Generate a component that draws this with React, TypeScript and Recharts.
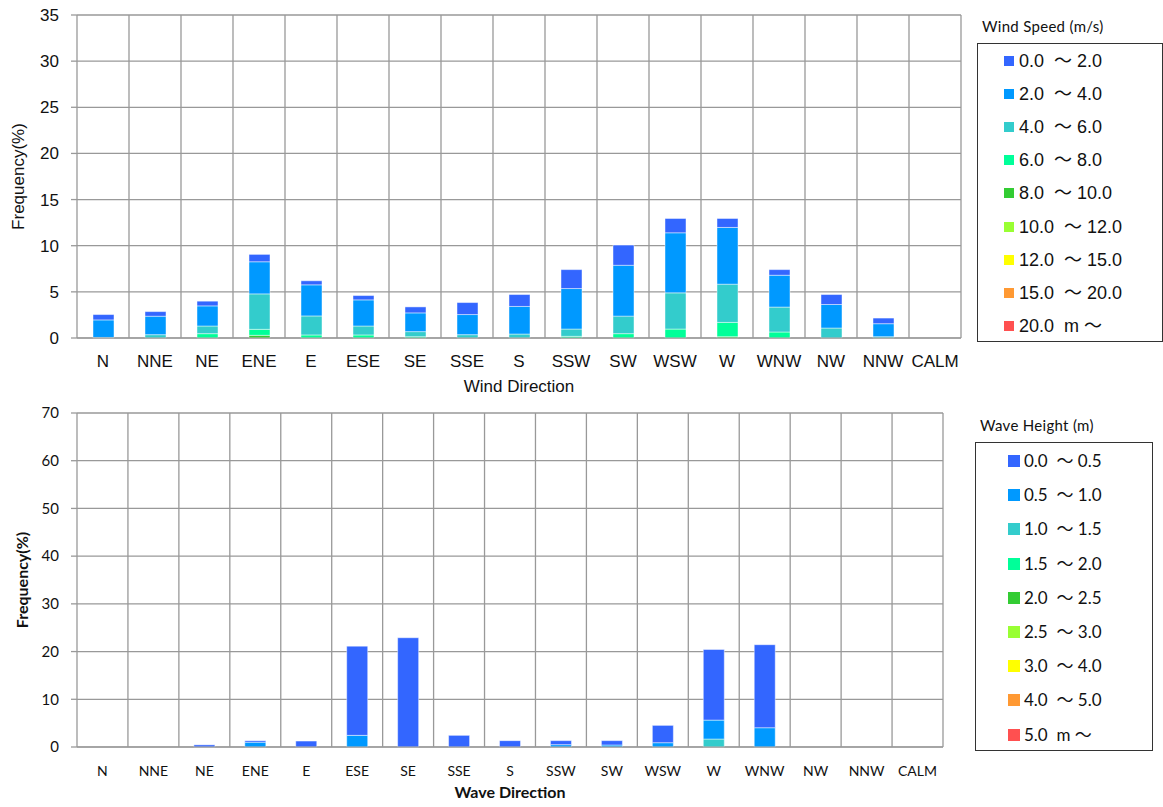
import React from 'react'
import { BarChart, Bar, XAxis, YAxis, CartesianGrid } from 'recharts'

const DIRECTIONS = ['N', 'NNE', 'NE', 'ENE', 'E', 'ESE', 'SE', 'SSE', 'S', 'SSW', 'SW', 'WSW', 'W', 'WNW', 'NW', 'NNW', 'CALM']

// ── Wind speed classes (m/s) ─────────────────────────────────────────────────
const WIND_LABELS = ['0.0  ～ 2.0', '2.0  ～ 4.0', '4.0  ～ 6.0', '6.0  ～ 8.0', '8.0  ～ 10.0', '10.0  ～ 12.0', '12.0  ～ 15.0', '15.0  ～ 20.0', '20.0  m ～']
const WIND_0_2   = [0.58, 0.50, 0.51, 0.80, 0.44, 0.47, 0.65, 1.30, 1.29, 2.05, 2.19, 1.55, 0.97, 0.61, 1.08, 0.61, 0]
const WIND_2_4   = [1.90, 2.00, 2.18, 3.48, 3.37, 2.83, 2.03, 2.18, 2.99, 4.39, 5.51, 6.51, 6.15, 3.45, 2.55, 1.41, 0]
const WIND_4_6   = [0.06, 0.36, 0.83, 3.84, 2.06, 0.97, 0.55, 0.36, 0.43, 0.79, 1.90, 3.92, 4.14, 2.70, 1.08, 0.14, 0]
const WIND_6_8   = [0, 0, 0.47, 0.65, 0.33, 0.33, 0.14, 0, 0, 0.18, 0.47, 0.97, 1.55, 0.65, 0, 0, 0]
const WIND_8_10  = [0, 0, 0, 0.29, 0, 0, 0, 0, 0, 0, 0, 0, 0.14, 0, 0, 0, 0]
const WIND_10_12 = [0, 0, 0, 0, 0, 0, 0, 0, 0, 0, 0, 0, 0, 0, 0, 0, 0]
const WIND_12_15 = [0, 0, 0, 0, 0, 0, 0, 0, 0, 0, 0, 0, 0, 0, 0, 0, 0]
const WIND_15_20 = [0, 0, 0, 0, 0, 0, 0, 0, 0, 0, 0, 0, 0, 0, 0, 0, 0]
const WIND_20_UP = [0, 0, 0, 0, 0, 0, 0, 0, 0, 0, 0, 0, 0, 0, 0, 0, 0]
const WIND_SERIES = [WIND_0_2, WIND_2_4, WIND_4_6, WIND_6_8, WIND_8_10, WIND_10_12, WIND_12_15, WIND_15_20, WIND_20_UP]

// ── Wave height classes (m) ──────────────────────────────────────────────────
const WAVE_LABELS = ['0.0  ～ 0.5', '0.5  ～ 1.0', '1.0  ～ 1.5', '1.5  ～ 2.0', '2.0  ～ 2.5', '2.5  ～ 3.0', '3.0  ～ 4.0', '4.0  ～ 5.0', '5.0  m ～']
const WAVE_0_05  = [0, 0, 0.45, 0.33, 1.25, 18.7, 22.9, 2.44, 1.33, 0.84, 0.91, 3.63, 14.8, 17.4, 0, 0, 0]
const WAVE_05_1  = [0, 0, 0, 1.00, 0, 2.44, 0, 0, 0, 0.49, 0.42, 0.90, 3.97, 4.04, 0, 0, 0]
const WAVE_1_15  = [0, 0, 0, 0, 0, 0, 0, 0, 0, 0, 0, 0, 1.67, 0, 0, 0, 0]
const WAVE_15_2  = [0, 0, 0, 0, 0, 0, 0, 0, 0, 0, 0, 0, 0, 0, 0, 0, 0]
const WAVE_2_25  = [0, 0, 0, 0, 0, 0, 0, 0, 0, 0, 0, 0, 0, 0, 0, 0, 0]
const WAVE_25_3  = [0, 0, 0, 0, 0, 0, 0, 0, 0, 0, 0, 0, 0, 0, 0, 0, 0]
const WAVE_3_4   = [0, 0, 0, 0, 0, 0, 0, 0, 0, 0, 0, 0, 0, 0, 0, 0, 0]
const WAVE_4_5   = [0, 0, 0, 0, 0, 0, 0, 0, 0, 0, 0, 0, 0, 0, 0, 0, 0]
const WAVE_5_UP  = [0, 0, 0, 0, 0, 0, 0, 0, 0, 0, 0, 0, 0, 0, 0, 0, 0]
const WAVE_SERIES = [WAVE_0_05, WAVE_05_1, WAVE_1_15, WAVE_15_2, WAVE_2_25, WAVE_25_3, WAVE_3_4, WAVE_4_5, WAVE_5_UP]

const CLASS_COLORS = ['#3366FF', '#0099FF', '#33CCCC', '#00FF99', '#33CC33', '#99FF33', '#FFFF00', '#FF9933', '#FF5050']

const WIND_TICKS = [0, 5, 10, 15, 20, 25, 30, 35]
const WAVE_TICKS = [0, 10, 20, 30, 40, 50, 60, 70]

const GRID = '#999999'
const ARIAL = '"Liberation Sans", Arial, "Noto Sans CJK JP", sans-serif'
const CALIBRI = 'Lato, "Noto Sans CJK JP", sans-serif'

function buildRows(series: number[][]) {
  return DIRECTIONS.map((dir, i) => {
    const row: Record<string, string | number> = { dir }
    series.forEach((s, k) => { row[`c${k}`] = s[i] })
    return row
  })
}

// Vertical grid lines sit on the category boundaries, not on the tick centres
const boundaryLines = ({ offset }: any) =>
  DIRECTIONS.map((_, i) => offset.left + ((i + 1) * offset.width) / DIRECTIONS.length)

interface ChartProps {
  series: number[][]
  ticks: number[]
  width: number
  height: number
  marginTop: number
  font: string
  xTickSize: number
  xTickMargin: number
  yTickSize: number
  xTitle: string
  xTitleSize: number
  xTitleOffset: number
  yTitle: string
  yTitleSize: number
  yTitleOffset: number
  bold: boolean
}

function DirectionChart(p: ChartProps) {
  const rows = buildRows(p.series)
  const weight = p.bold ? 'bold' : 'normal'
  // highest class first so the calm winds / small waves end up on top of the stack
  const order = p.series.map((_, k) => k).reverse()
  return (
    <div style={{ fontFamily: p.font }}>
      <BarChart width={p.width} height={p.height} data={rows} barSize={21}
        margin={{ top: p.marginTop, right: 9, left: 0, bottom: 2 }}>
        <CartesianGrid stroke={GRID} strokeWidth={1.3} verticalCoordinatesGenerator={boundaryLines} />
        <XAxis xAxisId="edges" type="number" domain={[0, DIRECTIONS.length]} height={0}
          ticks={DIRECTIONS.map((_, i) => i).concat(DIRECTIONS.length)} interval={0}
          tick={() => <g />} tickSize={6} axisLine={false} tickLine={{ stroke: GRID, strokeWidth: 1.3 }} />
        <XAxis xAxisId="cat" dataKey="dir" height={58} interval={0} tickSize={0} tickMargin={p.xTickMargin}
          axisLine={{ stroke: GRID }} tickLine={false}
          tick={{ fontSize: p.xTickSize, fill: '#111' }}
          label={{ value: p.xTitle, position: 'insideBottom', offset: p.xTitleOffset,
            style: { fontSize: p.xTitleSize, fill: '#111', fontWeight: weight } }} />
        <YAxis domain={[0, p.ticks[p.ticks.length - 1]]} ticks={p.ticks} width={77} interval={0}
          tickSize={6} tickMargin={12} axisLine={{ stroke: GRID, strokeWidth: 1.3 }}
          tickLine={{ stroke: GRID, strokeWidth: 1.3 }}
          tick={{ fontSize: p.yTickSize, fill: '#111' }}
          label={{ value: p.yTitle, angle: -90, position: 'insideLeft', offset: p.yTitleOffset,
            style: { textAnchor: 'middle', fontSize: p.yTitleSize, fill: '#111', fontWeight: weight } }} />
        {order.map((k) => (
          <Bar key={k} xAxisId="cat" dataKey={`c${k}`} stackId="freq" fill={CLASS_COLORS[k]}
            stroke="#ffffff" strokeOpacity={0.45} strokeWidth={1} isAnimationActive={false} />
        ))}
      </BarChart>
    </div>
  )
}

function ClassLegend({ title, labels, left, top, width, height, font, fontSize, titleSize,
  rowTop, rowGap, swatchLeft, swatch, textLeft }: {
  title: string; labels: string[]; left: number; top: number; width: number; height: number
  font: string; fontSize: number; titleSize: number; rowTop: number; rowGap: number
  swatchLeft: number; swatch: number; textLeft: number
}) {
  return (
    <>
      <div style={{ position: 'absolute', left: left + 5, top: top - 26, fontFamily: CALIBRI,
        fontSize: titleSize, color: '#111', letterSpacing: 0.3, whiteSpace: 'pre' }}>{title}</div>
      <div style={{ position: 'absolute', left, top, width, height, border: '1.5px solid #333',
        boxSizing: 'border-box', background: '#fff' }}>
        {labels.map((lab, i) => (
          <div key={lab} style={{ position: 'absolute', left: 0, top: rowTop + i * rowGap - 12,
            height: 24, display: 'flex', alignItems: 'center' }}>
            <span style={{ position: 'absolute', left: swatchLeft, width: swatch, height: swatch,
              background: CLASS_COLORS[i] }} />
            <span style={{ position: 'absolute', left: textLeft, fontFamily: font, fontSize,
              color: '#111', whiteSpace: 'pre', lineHeight: '24px' }}>{lab}</span>
          </div>
        ))}
      </div>
    </>
  )
}

export default function App() {
  return (
    <div style={{ position: 'absolute', left: 0, top: 0, width: 1163, height: 807, background: '#fff' }}>
      <div style={{ position: 'absolute', left: 0, top: 0 }}>
        <DirectionChart series={WIND_SERIES} ticks={WIND_TICKS} width={970} height={398} marginTop={15}
          font={ARIAL} xTickSize={17} xTickMargin={17} yTickSize={17}
          xTitle="Wind Direction" xTitleSize={17} xTitleOffset={4}
          yTitle="Frequency(%)" yTitleSize={17} yTitleOffset={18} bold={false} />
      </div>
      <div style={{ position: 'absolute', left: 0, top: 400 }}>
        <DirectionChart series={WAVE_SERIES} ticks={WAVE_TICKS} width={952} height={407} marginTop={13}
          font={CALIBRI} xTickSize={14} xTickMargin={19} yTickSize={15}
          xTitle="Wave Direction" xTitleSize={16} xTitleOffset={7}
          yTitle="Frequency(%)" yTitleSize={16} yTitleOffset={22} bold />
      </div>
      <ClassLegend title="Wind Speed (m/s)" labels={WIND_LABELS} left={977} top={43} width={186} height={299}
        font={ARIAL} fontSize={18} titleSize={15} rowTop={17} rowGap={33.1}
        swatchLeft={26} swatch={10} textLeft={41} />
      <ClassLegend title="Wave Height (m)" labels={WAVE_LABELS} left={975} top={442} width={178} height={309}
        font={CALIBRI} fontSize={17} titleSize={15} rowTop={18} rowGap={34.2}
        swatchLeft={32} swatch={12} textLeft={48} />
    </div>
  )
}
